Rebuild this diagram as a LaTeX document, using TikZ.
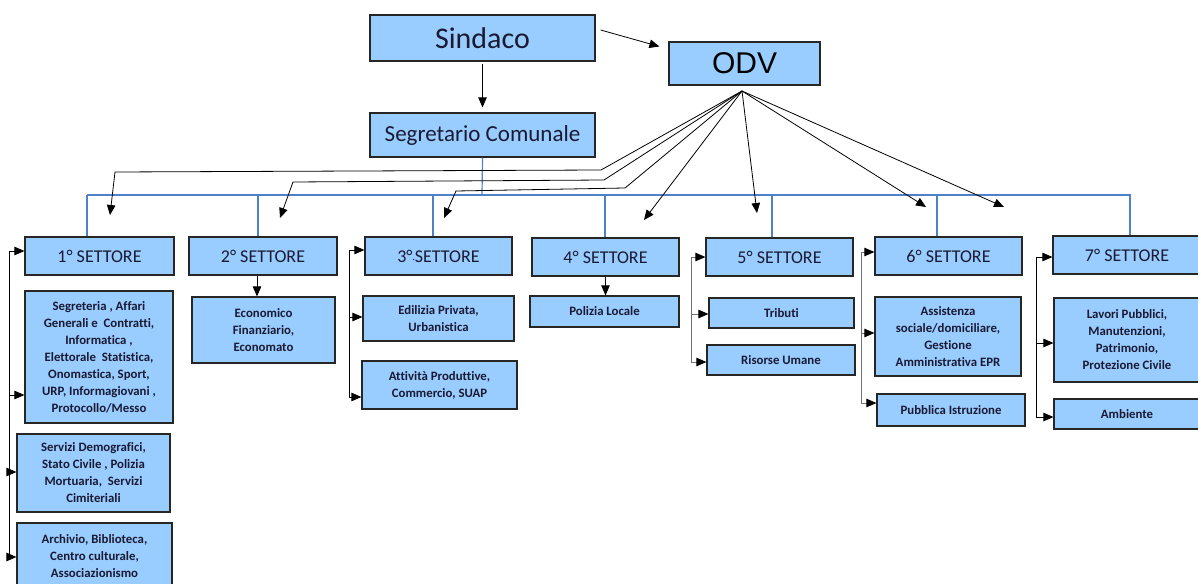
\documentclass[tikz,border=0pt]{standalone}
\usepackage{fontspec}
\setmainfont{Carlito}[Ligatures={NoCommon}]
\newfontfamily\arialf{Liberation Sans}
\usetikzlibrary{arrows.meta,calc}
\definecolor{boxfill}{HTML}{99CCFF}
\definecolor{busblue}{HTML}{4F81C9}
\definecolor{boxline}{HTML}{262626}
\definecolor{titletext}{HTML}{1A1A33}
\begin{document}
\begin{tikzpicture}[x=1pt,y=-1pt,
  obox/.style={draw=boxline,line width=1.2pt,fill=boxfill,inner sep=0pt,align=center,text=titletext},
  subbox/.style={obox,font={\fontsize{12.8}{17}\selectfont\bfseries}},
  setbox/.style={obox,minimum width=147pt,minimum height=38pt,font={\fontsize{18}{20}\selectfont}},
  arr/.style={draw=black,line width=0.8pt,-{Triangle[length=10pt,width=8.5pt]}},
  garr/.style={draw=black!55,line width=0.9pt,-{Triangle[length=10pt,width=8.5pt,color=black]}},
  spine/.style={draw=black,line width=0.8pt},
  gspine/.style={draw=black!55,line width=0.9pt},
  bus/.style={draw=busblue,line width=1.2pt}]
\clip (0,0) rectangle (1198,583);
\fill[white] (0,0) rectangle (1198,583);

% top
\node[obox,minimum width=225pt,minimum height=46pt,font={\fontsize{30}{32}\selectfont}] (sind) at (482.5,38) {Sindaco};
\node[obox,minimum width=225pt,minimum height=44pt,font={\fontsize{23}{25}\selectfont}] (segr) at (482.5,135) {Segretario Comunale};
\node[obox,minimum width=151pt,minimum height=43pt,text=black,font={\arialf\fontsize{30}{32}\selectfont}] (odv) at (744.5,63.5) {ODV};

% settori
\node[setbox,minimum width=149pt] (s1) at (99.5,256) {1° SETTORE};
\node[setbox,minimum width=148pt] (s2) at (263,256) {2° SETTORE};
\node[setbox] (s3) at (438.5,256) {3°{\color{blue}\fontsize{9}{9}\selectfont·}SETTORE};
\node[setbox] (s4) at (605.5,257) {4° SETTORE};
\node[setbox] (s5) at (779.5,257) {5° SETTORE};
\node[setbox] (s6) at (948.5,256) {6° SETTORE};
\node[setbox,minimum width=148pt] (s7) at (1127,255) {7° SETTORE};

% sub boxes
\node[subbox,minimum width=148pt,minimum height=132pt] (a1) at (99,357) {Segreteria , Affari\\Generali e\ \ Contratti,\\Informatica ,\\Elettorale\ \ Statistica,\\Onomastica, Sport,\\URP, Informagiovani ,\\Protocollo/Messo};
\node[subbox,minimum width=153pt,minimum height=78pt] (a2) at (93.5,473) {Servizi Demografici,\\Stato Civile , Polizia\\Mortuaria,\ \ Servizi\\Cimiteriali};
\node[subbox,minimum width=155pt,minimum height=67pt] (a3) at (94.5,556.5) {Archivio, Biblioteca,\\Centro culturale,\\Associazionismo};
\node[subbox,minimum width=143pt,minimum height=66pt] (b1) at (263.5,330) {Economico\\Finanziario,\\Economato};
\node[subbox,minimum width=151pt,minimum height=45pt] (c1) at (438.5,318.5) {Edilizia Privata,\\Urbanistica};
\node[subbox,minimum width=155pt,minimum height=48pt] (c2) at (439.5,385) {Attività Produttive,\\Commercio, SUAP};
\node[subbox,minimum width=149pt,minimum height=31pt] (d1) at (604.5,311.5) {Polizia Locale};
\node[subbox,minimum width=145pt,minimum height=30pt] (e1) at (781.5,313) {Tributi};
\node[subbox,minimum width=148pt,minimum height=30pt] (e2) at (781,360) {Risorse Umane};
\node[subbox,minimum width=146pt,minimum height=79pt] (f1) at (948,336.5) {Assistenza\\sociale/domiciliare,\\Gestione\\Amministrativa EPR};
\node[subbox,minimum width=148pt,minimum height=32pt] (f2) at (951,410) {Pubblica Istruzione};
\node[subbox,minimum width=146pt,minimum height=84pt] (g1) at (1127,340) {Lavori Pubblici,\\Manutenzioni,\\Patrimonio,\\Protezione Civile};
\node[subbox,minimum width=146pt,minimum height=30pt] (g2) at (1127,414) {Ambiente};

% blue bus
\coordinate (busc) at (482,195);
\draw[bus] (segr.south) -- (busc);
\draw[bus] (87,195) -- (1131,195);
\draw[bus] (87,195) -- (s1.north -| 87,0);
\draw[bus] (258,195) -- (s2.north -| 258,0);
\draw[bus] (433,195) -- (s3.north -| 433,0);
\draw[bus] (605,195) -- (s4.north -| 605,0);
\draw[bus] (772,195) -- (s5.north -| 772,0);
\draw[bus] (937,195) -- (s6.north -| 937,0);
\draw[bus] (1130,195) -- (s7.north -| 1130,0);

% top arrows
\draw[arr,shorten <=2pt,shorten >=5pt] (sind.south) -- (segr.north);
\draw[arr] ($(sind.east)+(5,-8)$) -- ($(odv.west)+(-9,-17)$);

% ODV fan
\coordinate (o) at (742,91);
\coordinate (t1) at (110,215);
\coordinate (t2) at (280,218);
\coordinate (t3) at (444,218);
\coordinate (t4) at (644,220);
\coordinate (t5) at (757,213);
\coordinate (t6) at (926,207);
\coordinate (t7) at (1004,207);
\draw[arr] (o) -- (601,170) -- (115,172) -- (t1);
\draw[arr] (o) -- (604,180) -- (293,182) -- (t2);
\draw[arr] (o) -- (625,188) -- (456,191) -- (t3);
\draw[arr] (o) -- (t4);
\draw[arr] (o) -- (t5);
\draw[arr] (o) -- (t6);
\draw[arr] (o) -- (t7);

% down arrows
\draw[arr] ($(s2.south)+(-6,0)$) -- ($(b1.north)+(-6.5,0)$);
\draw[arr] (s4.south) -- (s4.south |- d1.north);

% brackets
\draw[spine] (9,251) -- (9,557);
\draw[arr] (9,251) -- (9,251 -| s1.west);
\draw[arr] (9,395) -- (9,395 -| a1.west);
\draw[arr] (9,472) -- (9,472 -| a2.west);
\draw[arr] (9,557) -- (9,557 -| a3.west);

\draw[spine] (349,250) -- (349,397);
\draw[arr] (349,250) -- (349,250 -| s3.west);
\draw[arr] (349,317) -- (349,317 -| c1.west);
\draw[arr] (349,397) -- (349,397 -| c2.west);

\draw[gspine] (691,257) -- (691,362);
\draw[garr] (691,257) -- (691,257 -| s5.west);
\draw[garr] (691,314) -- (691,314 -| e1.west);
\draw[garr] (691,362) -- (691,362 -| e2.west);

\draw[gspine] (861,252) -- (861,403);
\draw[garr] (861,252) -- (861,252 -| s6.west);
\draw[garr] (861,333) -- (861,333 -| f1.west);
\draw[garr] (861,403) -- (861,403 -| f2.west);

\draw[spine] (1036,257) -- (1036,417);
\draw[arr] (1036,257) -- (1036,257 -| s7.west);
\draw[arr] (1036,343) -- (1036,343 -| g1.west);
\draw[arr] (1036,417) -- (1036,417 -| g2.west);
\end{tikzpicture}
\end{document}
